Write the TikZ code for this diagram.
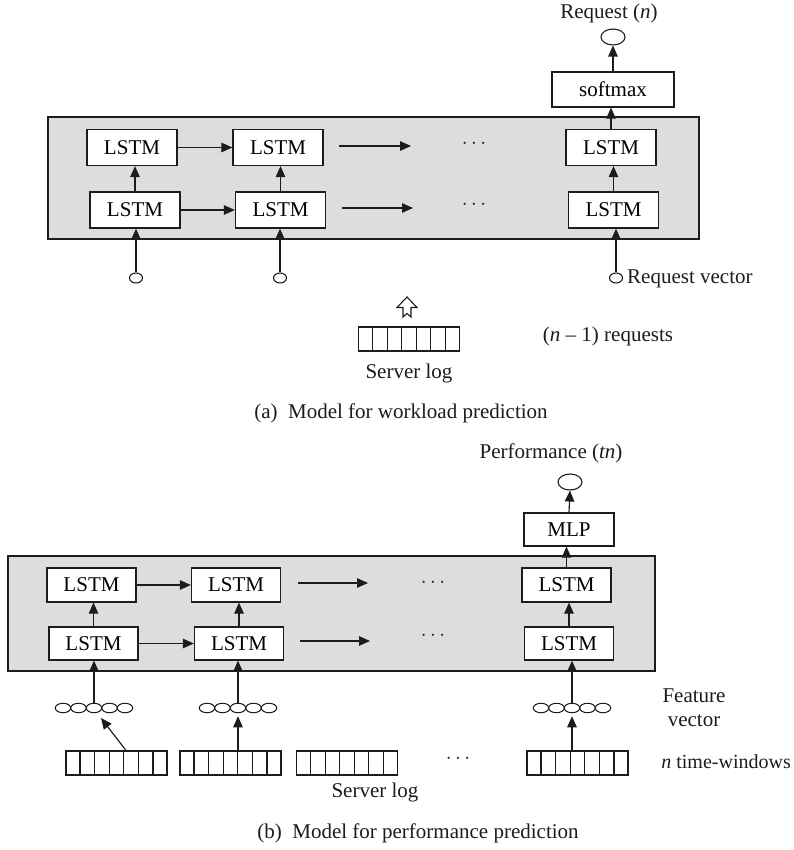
\documentclass[tikz,border=0pt]{standalone}
\usepackage{fontspec}
\setmainfont{Liberation Serif}
\usetikzlibrary{arrows.meta,shapes.geometric,calc}
\definecolor{panelgray}{RGB}{220,221,223}
\definecolor{inkc}{RGB}{30,27,28}
\begin{document}
\begin{tikzpicture}[x=1pt,y=-1pt,
  font=\fontsize{21}{24}\selectfont,
  panel/.style={draw=inkc, fill=panelgray, line width=1.4pt, inner sep=0pt},
  lstm/.style={draw=inkc, fill=white, line width=1.25pt, minimum width=90pt, minimum height=36pt, inner sep=0pt},
  oval/.style={draw=inkc, ellipse, fill=white, line width=1.1pt, minimum width=24pt, minimum height=16pt, inner sep=0pt},
  dotc/.style={draw=inkc, ellipse, fill=white, line width=1.1pt, minimum width=13pt, minimum height=10pt, inner sep=0pt},
  fvc/.style={draw=inkc, ellipse, fill=white, line width=1pt, minimum width=15.5pt, minimum height=9.5pt, inner sep=0pt},
  logb/.style={draw=inkc, fill=white, line width=1.1pt, minimum width=101pt, minimum height=24pt, inner sep=0pt},
  arr/.style={draw=inkc, line width=1.15pt, -{Triangle[length=11pt,width=9.5pt]}},
  txt/.style={inner sep=0pt, text=inkc}
]
\fill[white] (0,0) rectangle (793,850);
\useasboundingbox (0,0) rectangle (793,850);

% ================= (a) =================
\node[panel, minimum width=651pt, minimum height=122pt] (pa) at (373.5,178) {};
\node[lstm] (t1) at (132,147.5) {LSTM};
\node[lstm] (t2) at (278,147.5) {LSTM};
\node[lstm] (t3) at (611,147.5) {LSTM};
\node[lstm] (b1) at (135,210) {LSTM};
\node[lstm] (b2) at (280.5,210) {LSTM};
\node[lstm] (b3) at (613.5,210) {LSTM};
\node[lstm, minimum width=122pt, minimum height=35pt] (sm) at (613,89.5) {softmax};
\node[oval] (oa) at (613,37) {};
\node[txt] (ra) at (609,13) {Request (\textit{n})};

\draw[arr] (t1) -- (t2);
\draw[arr] (b1) -- (b2);
\draw[arr] (b1.north) -- (b1.north |- t1.south);
\draw[arr] (b2.north) -- (b2.north |- t2.south);
\draw[arr] (b3.north) -- (b3.north |- t3.south);
\draw[arr] (t3.north) -- (t3.north |- sm.south);
\draw[arr] (sm.north) -- (oa.south);
\coordinate (pa1) at (339,146);
\coordinate (pa2) at (411,146);
\draw[arr] (pa1) -- (pa2);
\coordinate (pb1) at (342,208);
\coordinate (pb2) at (413,208);
\draw[arr] (pb1) -- (pb2);
\node[txt] (da1) at (474,144) {$\cdots$};
\node[txt] (da2) at (474,205) {$\cdots$};

\node[dotc] (ia1) at (136,278) {};
\node[dotc] (ia2) at (280,278) {};
\node[dotc] (ia3) at (616,278) {};
\draw[arr] (ia1.north) -- (ia1.north |- b1.south);
\draw[arr] (ia2.north) -- (ia2.north |- b2.south);
\draw[arr] (ia3.north) -- (ia3.north |- b3.south);
\node[txt, anchor=west] (rv) at (627,279) {Request vector};

\draw[draw=inkc, line width=1.1pt, fill=white, line join=miter]
  (407,297) -- (417,307.5) -- (411,307.5) -- (411,317) -- (407,313.5)
  -- (403,317) -- (403,307.5) -- (397,307.5) -- cycle;
\node[logb] (la) at (409,339) {};
\foreach \i in {1,...,6}
  \draw[draw=inkc, line width=1.1pt] ($(la.north west)!\i/7!(la.north east)$) -- ($(la.south west)!\i/7!(la.south east)$);
\node[txt] (sla) at (409,373) {Server log};
\node[txt] (nr) at (608,336) {(\textit{n} – 1) requests};
\node[txt] (capa) at (401,413) {(a)\enspace Model for workload prediction};

% ================= (b) =================
\node[panel, minimum width=647pt, minimum height=115pt] (pb) at (331.5,613.5) {};
\node[lstm, minimum width=89pt, minimum height=34pt] (q1) at (91.5,585) {LSTM};
\node[lstm, minimum width=89pt, minimum height=34pt] (q2) at (236,585) {LSTM};
\node[lstm, minimum width=89pt, minimum height=34pt] (q3) at (566.5,585) {LSTM};
\node[lstm, minimum width=89pt, minimum height=33pt] (r1) at (93.5,643.5) {LSTM};
\node[lstm, minimum width=89pt, minimum height=33pt] (r2) at (239,643.5) {LSTM};
\node[lstm, minimum width=89pt, minimum height=33pt] (r3) at (569,643.5) {LSTM};
\node[lstm, minimum width=90pt, minimum height=33pt] (mlp) at (569,529.5) {MLP};
\node[oval] (ob) at (570,482) {};
\node[txt] (pf) at (551,453) {Performance (\textit{tn})};

\draw[arr] (q1) -- (q2);
\draw[arr] (r1) -- (r2);
\draw[arr] (r1.north) -- (r1.north |- q1.south);
\draw[arr] (r2.north) -- (r2.north |- q2.south);
\draw[arr] (r3.north) -- (r3.north |- q3.south);
\draw[arr] (q3.north) -- (q3.north |- mlp.south);
\draw[arr] (mlp.north) -- (ob.south);
\coordinate (pc1) at (298,583);
\coordinate (pc2) at (368,583);
\draw[arr] (pc1) -- (pc2);
\coordinate (pd1) at (300,641);
\coordinate (pd2) at (370,641);
\draw[arr] (pd1) -- (pd2);
\node[txt] (db1) at (433,583) {$\cdots$};
\node[txt] (db2) at (433,636) {$\cdots$};

\foreach \cx/\nm in {94/fv1,238/fv2,572/fv3}{
  \foreach \o in {-31,-15.5,15.5,31}
    \node[fvc] at ({\cx+\o},708) {};
  \node[fvc] (\nm) at (\cx,708) {};
}
\draw[arr] (fv1.north) -- (fv1.north |- r1.south);
\draw[arr] (fv2.north) -- (fv2.north |- r2.south);
\draw[arr] (fv3.north) -- (fv3.north |- r3.south);
\node[txt, align=center] (fvt) at (694,708) {Feature\\vector};

\foreach \cx/\nm in {116.5/lg1,230.5/lg2,347/lg3,577.5/lg4}{
  \node[logb] (\nm) at (\cx,763) {};
  \foreach \i in {1,...,6}
    \draw[draw=inkc, line width=1.1pt] ($(\nm.north west)!\i/7!(\nm.north east)$) -- ($(\nm.south west)!\i/7!(\nm.south east)$);
}
\coordinate (d1) at (101,718);
\draw[arr] ([xshift=9.5pt]lg1.north) -- (d1);
\draw[arr, shorten >=3pt] (fv2.south |- lg2.north) -- (fv2.south);
\draw[arr, shorten >=3pt] (fv3.south |- lg4.north) -- (fv3.south);
\node[txt] (db3) at (458,759) {$\cdots$};
\node[txt, anchor=east, font=\fontsize{20}{24}\selectfont] (tw) at (791,762) {\textit{n} time-windows};
\node[txt] (slb) at (375,792) {Server log};
\node[txt] (capb) at (418,833) {(b)\enspace Model for performance prediction};
\end{tikzpicture}
\end{document}
